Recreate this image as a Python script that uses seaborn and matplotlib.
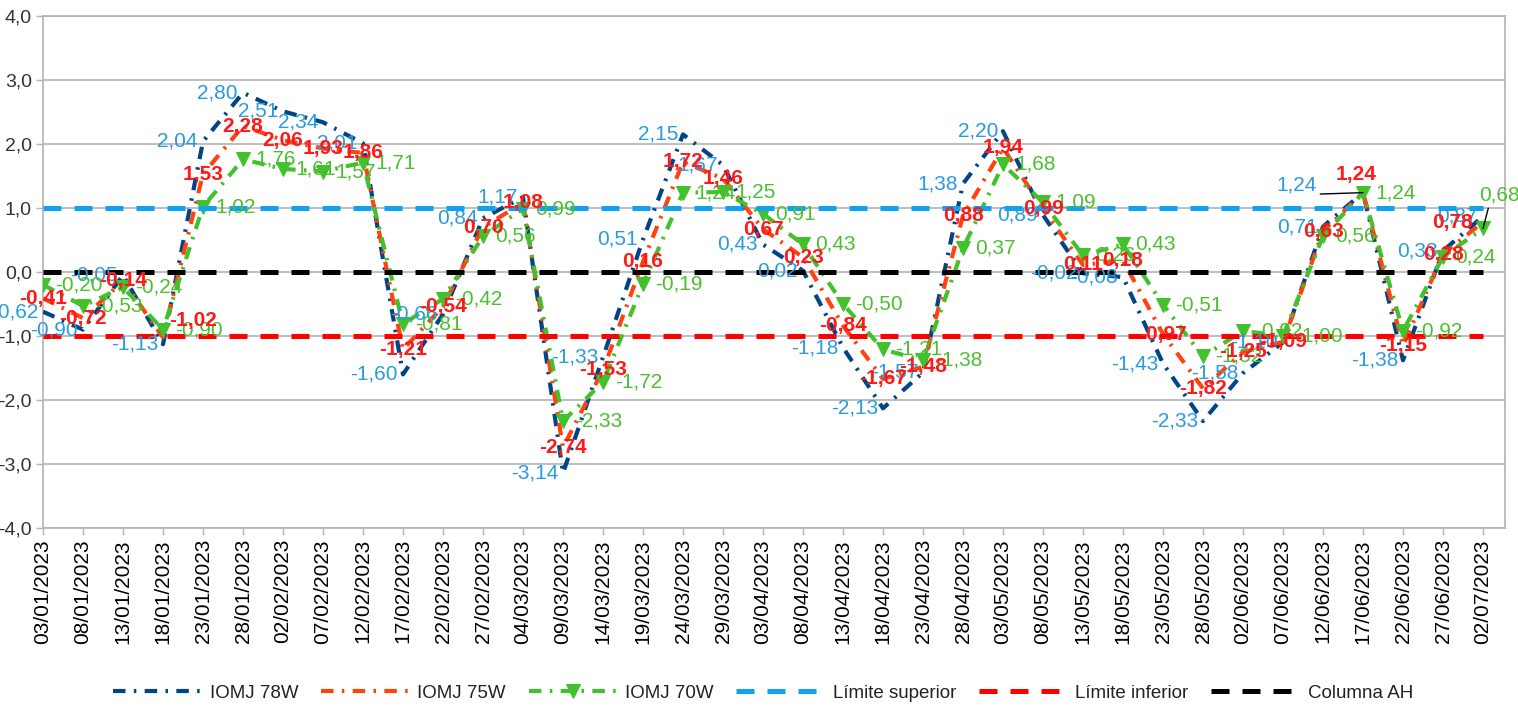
import matplotlib
matplotlib.use("Agg")
import matplotlib.pyplot as plt
import matplotlib.dates as mdates
from matplotlib.ticker import FuncFormatter, FixedLocator
import seaborn as sns
import pandas as pd

# ---------------- data ----------------
date_labels = [
    "03/01/2023", "08/01/2023", "13/01/2023", "18/01/2023", "23/01/2023", "28/01/2023",
    "02/02/2023", "07/02/2023", "12/02/2023", "17/02/2023", "22/02/2023", "27/02/2023",
    "04/03/2023", "09/03/2023", "14/03/2023", "19/03/2023", "24/03/2023", "29/03/2023",
    "03/04/2023", "08/04/2023", "13/04/2023", "18/04/2023", "23/04/2023", "28/04/2023",
    "03/05/2023", "08/05/2023", "13/05/2023", "18/05/2023", "23/05/2023", "28/05/2023",
    "02/06/2023", "07/06/2023", "12/06/2023", "17/06/2023", "22/06/2023", "27/06/2023",
    "02/07/2023",
]
iomj_78w = [-0.62, -0.90, -0.05, -1.13, 2.04, 2.80, 2.51, 2.34, 2.01, -1.60, -0.66, 0.84,
            1.17, -3.14, -1.33, 0.51, 2.15, 1.67, 0.43, 0.02, -1.18, -2.13, -1.57, 1.38,
            2.20, 0.89, -0.02, -0.08, -1.43, -2.33, -1.58, -1.10, 0.71, 1.24, -1.38, 0.33,
            0.87]
iomj_75w = [-0.41, -0.72, -0.14, -1.02, 1.53, 2.28, 2.06, 1.93, 1.86, -1.21, -0.54, 0.70,
            1.08, -2.74, -1.53, 0.16, 1.72, 1.46, 0.67, 0.23, -0.84, -1.67, -1.48, 0.88,
            1.94, 0.99, 0.11, 0.18, -0.97, -1.82, -1.25, -1.09, 0.63, 1.24, -1.15, 0.28,
            0.78]
iomj_70w = [-0.20, -0.53, -0.24, -0.90, 1.02, 1.76, 1.61, 1.57, 1.71, -0.81, -0.42, 0.56,
            0.99, -2.33, -1.72, -0.19, 1.24, 1.25, 0.91, 0.43, -0.50, -1.21, -1.38, 0.37,
            1.68, 1.09, 0.26, 0.43, -0.51, -1.32, -0.92, -1.00, 0.56, 1.24, -0.92, 0.24,
            0.68]
limite_superior = 1.0
limite_inferior = -1.0
columna_ah = 0.0
y_ticks = [-4, -3, -2, -1, 0, 1, 2, 3, 4]

# ---------------- style ----------------
sns.set_theme(style="white")
plt.rcParams["font.family"] = ["Liberation Sans", "DejaVu Sans"]

W, H = 1518, 710
fig, ax = plt.subplots(figsize=(W / 100, H / 100), dpi=100)
fig.subplots_adjust(left=43 / W, right=1505 / W, top=1 - 16 / H, bottom=1 - 528 / H)

dates = pd.to_datetime(date_labels, format="%d/%m/%Y")
n = len(dates)
df = pd.DataFrame({
    "fecha": dates,
    "IOMJ 78W": iomj_78w,
    "IOMJ 75W": iomj_75w,
    "IOMJ 70W": iomj_70w,
    "Límite superior": [limite_superior] * n,
    "Límite inferior": [limite_inferior] * n,
    "Columna AH": [columna_ah] * n,
})

C78, C75, C70 = "#004586", "#ff420e", "#42c12c"
CSUP, CINF, CAH = "#0ea2f0", "#ff0000", "#000000"

dashdot = (0, (3.0, 2.0, 0.6, 2.0))
dashed = (0, (3.6, 2.6))

sns.lineplot(data=df, x="fecha", y="IOMJ 78W", ax=ax, color=C78, lw=3.0,
             linestyle=dashdot, label="IOMJ 78W", zorder=3)
sns.lineplot(data=df, x="fecha", y="IOMJ 75W", ax=ax, color=C75, lw=3.0,
             linestyle=dashdot, label="IOMJ 75W", zorder=3)
sns.lineplot(data=df, x="fecha", y="IOMJ 70W", ax=ax, color=C70, lw=3.0,
             linestyle=dashdot, marker="v", markersize=10, markeredgecolor=C70,
             markerfacecolor=C70, label="IOMJ 70W", zorder=3)
sns.lineplot(data=df, x="fecha", y="Límite superior", ax=ax, color=CSUP, lw=3.6,
             linestyle=dashed, label="Límite superior", zorder=4)
sns.lineplot(data=df, x="fecha", y="Límite inferior", ax=ax, color=CINF, lw=3.6,
             linestyle=dashed, label="Límite inferior", zorder=4)
sns.lineplot(data=df, x="fecha", y="Columna AH", ax=ax, color=CAH, lw=3.6,
             linestyle=dashed, label="Columna AH", zorder=4)

# ---------------- axes ----------------
ax.set_xlim(dates[0], dates[0] + pd.Timedelta(days=182.75))
ax.set_ylim(-4, 4)
ax.xaxis.set_major_locator(FixedLocator(mdates.date2num(dates)))
ax.xaxis.set_major_formatter(mdates.DateFormatter("%d/%m/%Y"))
ax.yaxis.set_major_locator(FixedLocator(y_ticks))
ax.yaxis.set_major_formatter(FuncFormatter(lambda v, _: f"{v:.1f}".replace(".", ",")))
ax.set_xlabel("")
ax.set_ylabel("")
ax.tick_params(axis="x", bottom=True, length=5, width=1, color="#b3b3b3",
               labelsize=15, labelrotation=90, labelcolor="#000000", pad=3)
ax.tick_params(axis="y", left=True, length=5, width=1, color="#b3b3b3",
               labelsize=14, labelcolor="#333333", pad=3)
ax.yaxis.grid(True, color="#b3b3b3", lw=1.2)
ax.xaxis.grid(False)
for s in ax.spines.values():
    s.set_color("#b3b3b3")
    s.set_linewidth(1.2)

# ---------------- data labels ----------------
PX = 0.72  # points per pixel at 100 dpi


def fmt(v):
    return f"{v:.2f}".replace(".", ",")


label_specs = [
    ("b", iomj_78w, "#2a9be0", "right", -5, 0, 6, "normal"),
    ("g", iomj_70w, "#4cbf30", "left", 12, 0, 7, "normal"),
    ("r", iomj_75w, "#ff1a1a", "center", 0, 0, 8, "bold"),
]
special = {
    ("b", 33): (-46, 8, dict(relpos=(1.0, 0.0))),
    ("g", 36): (-4, 33, dict(relpos=(0.25, 0.0))),
    ("r", 36): (-31, 0, None),
    ("r", 33): (-7, 18, None),
    ("r", 3): (30, 17, None),
}
for key, values, col, ha, dx, dy, z, fw in label_specs:
    for i, (d, v) in enumerate(zip(dates, values)):
        ddx, ddy, arrow = dx, dy, None
        if (key, i) in special:
            ddx, ddy, arrow = special[(key, i)]
        kw = {}
        if arrow is not None:
            kw["arrowprops"] = dict(arrowstyle="-", color="black", lw=1,
                                    shrinkA=0, shrinkB=0, **arrow)
        ax.annotate(fmt(v), (mdates.date2num(d), v), xytext=(ddx * PX, ddy * PX),
                    textcoords="offset points", ha=ha, va="center", color=col,
                    fontsize=15, fontweight=fw, zorder=z, annotation_clip=False, **kw)

# ---------------- legend ----------------
handles, labels = ax.get_legend_handles_labels()
if ax.get_legend() is not None:
    ax.get_legend().remove()
fig.legend(handles, labels, loc="center", bbox_to_anchor=(763 / W, 1 - 693 / H),
           ncol=6, frameon=False, fontsize=13.5, handlelength=4.7, handletextpad=0.45,
           columnspacing=1.2, numpoints=1, labelcolor="#222222")

fig.savefig("out.png", dpi=100)
